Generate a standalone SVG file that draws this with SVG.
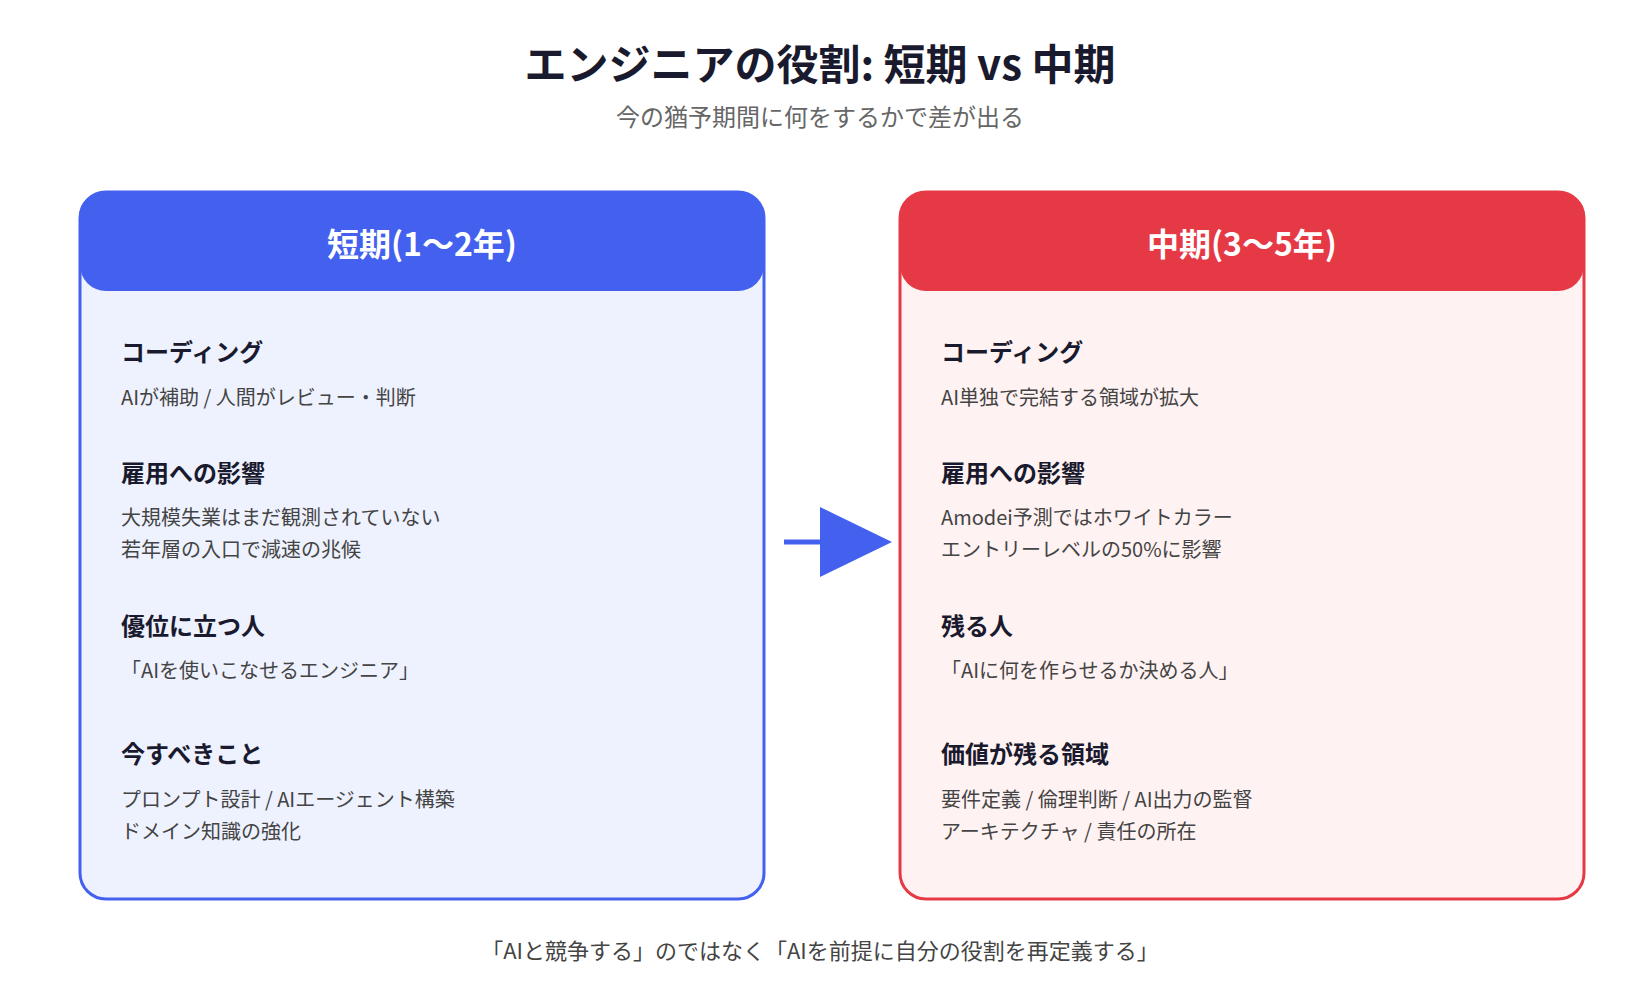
<svg xmlns="http://www.w3.org/2000/svg" width="1640" height="1000" viewBox="0 0 1640 1000">
<style>
text{font-family:"Noto Sans CJK JP","Noto Sans",sans-serif}
.h{font-size:24px;font-weight:700;fill:#1a1a2e}
.b{font-size:20px;fill:#444}
.hd{font-size:32px;font-weight:700;fill:#fff;text-anchor:middle}
</style>
<rect width="1640" height="1000" fill="#fff"/>
<text x="820" y="80" text-anchor="middle" font-size="42" font-weight="700" fill="#1a1a2e">エンジニアの役割: 短期 vs 中期</text>
<text x="820" y="126" text-anchor="middle" font-size="24" fill="#666">今の猶予期間に何をするかで差が出る</text>
<g id="short">
<rect x="80" y="192" width="684" height="707" rx="26" fill="#EEF2FE" stroke="#4361EE" stroke-width="3"/>
<path d="M80 218a26 26 0 0 1 26-26h632a26 26 0 0 1 26 26v47a26 26 0 0 1-26 26H106a26 26 0 0 1-26-26z" fill="#4361EE"/>
<text x="422" y="256" class="hd">短期(1〜2年)</text>
<text x="121" y="361" class="h">コーディング</text>
<text x="121" y="405" class="b">AIが補助 / 人間がレビュー・判断</text>
<text x="121" y="482" class="h">雇用への影響</text>
<text x="121" y="525" class="b">大規模失業はまだ観測されていない</text>
<text x="121" y="557" class="b">若年層の入口で減速の兆候</text>
<text x="121" y="635" class="h">優位に立つ人</text>
<text x="121" y="678" class="b">「AIを使いこなせるエンジニア」</text>
<text x="121" y="763" class="h">今すべきこと</text>
<text x="121" y="807" class="b">プロンプト設計 / AIエージェント構築</text>
<text x="121" y="839" class="b">ドメイン知識の強化</text>
</g>
<g id="mid">
<rect x="900" y="192" width="684" height="707" rx="26" fill="#FFF2F2" stroke="#E63946" stroke-width="3"/>
<path d="M900 218a26 26 0 0 1 26-26h632a26 26 0 0 1 26 26v47a26 26 0 0 1-26 26H926a26 26 0 0 1-26-26z" fill="#E63946"/>
<text x="1242" y="256" class="hd">中期(3〜5年)</text>
<text x="941" y="361" class="h">コーディング</text>
<text x="941" y="405" class="b">AI単独で完結する領域が拡大</text>
<text x="941" y="482" class="h">雇用への影響</text>
<text x="941" y="525" class="b">Amodei予測ではホワイトカラー</text>
<text x="941" y="557" class="b">エントリーレベルの50%に影響</text>
<text x="941" y="635" class="h">残る人</text>
<text x="941" y="678" class="b">「AIに何を作らせるか決める人」</text>
<text x="941" y="763" class="h">価値が残る領域</text>
<text x="941" y="807" class="b">要件定義 / 倫理判断 / AI出力の監督</text>
<text x="941" y="839" class="b">アーキテクチャ / 責任の所在</text>
</g>
<g id="connectors">
<line x1="784" y1="542" x2="822" y2="542" stroke="#4361EE" stroke-width="5"/>
<polygon points="820,507 892,542 820,577" fill="#4361EE"/>
</g>
<text x="820" y="959" text-anchor="middle" font-size="22" fill="#444">「AIと競争する」のではなく「AIを前提に自分の役割を再定義する」</text>
</svg>
